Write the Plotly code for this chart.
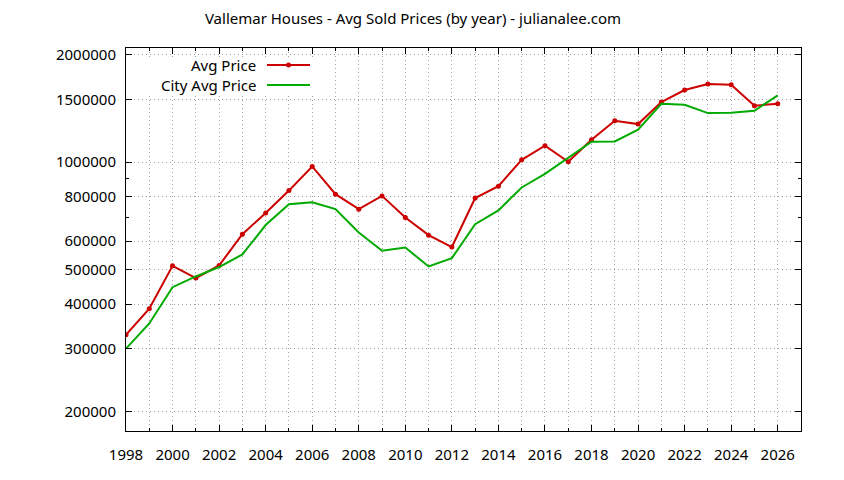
import plotly.graph_objects as go
import math

years = list(range(1998, 2027))
avg_price = [328000, 388000, 512000, 473000, 513000, 628000, 720000, 832000, 972000,
             813000, 738000, 804000, 699000, 624000, 578000, 793000, 856000, 1015000,
             1111000, 1002000, 1155000, 1306000, 1278000, 1473000, 1592000, 1655000,
             1648000, 1439000, 1457000]
city_avg_price = [300000, 353000, 446000, 478000, 508000, 551000, 666000, 762000, 772000,
                  738000, 635000, 564000, 576000, 510000, 538000, 670000, 732000, 849000,
                  927000, 1026000, 1140000, 1142000, 1232000, 1457000, 1448000, 1372000,
                  1375000, 1393000, 1538000]
y_tick_vals = [200000, 300000, 400000, 500000, 600000, 800000, 1000000, 1500000, 2000000]
y_minor_vals = [700000, 900000]
x_tick_vals = list(range(1998, 2027, 2))

RED = "#cc0000"
GREEN = "#00aa00"
GRID = "#a0a0a0"
FONT = "Noto Sans"

fig = go.Figure()
fig.add_trace(go.Scatter(x=years, y=avg_price, mode="lines+markers", name="Avg Price",
                         line=dict(color=RED, width=2), marker=dict(size=5, color=RED),
                         showlegend=False))
fig.add_trace(go.Scatter(x=years, y=city_avg_price, mode="lines", name="City Avg Price",
                         line=dict(color=GREEN, width=2), showlegend=False))

L, R, T, B = 126, 43, 48, 49
W, H = 844, 480
pw, ph = W - L - R, H - T - B

def px(x):
    return (x - L) / pw

def py(y):
    return 1 - (y - T) / ph

# legend (manual, gnuplot style: opaque key, text left of sample)
shapes = [dict(type="rect", xref="paper", yref="paper", x0=px(L + 1), x1=px(319),
               y0=py(95), y1=py(57), fillcolor="white", line=dict(width=0),
               layer="above")]
annotations = []
legend_rows = [("Avg Price", RED, True, 65), ("City Avg Price", GREEN, False, 85)]
for text, col, mk, yy in legend_rows:
    shapes.append(dict(type="line", xref="paper", yref="paper", x0=px(267), x1=px(310),
                       y0=py(yy), y1=py(yy), line=dict(color=col, width=2)))
    if mk:
        shapes.append(dict(type="circle", xref="paper", yref="paper",
                           x0=px(286), x1=px(291), y0=py(yy - 2.5), y1=py(yy + 2.5),
                           fillcolor=col, line=dict(color=col, width=0)))
    annotations.append(dict(text=text, xref="paper", yref="paper", x=px(258), y=py(yy),
                            xanchor="right", yanchor="middle", showarrow=False,
                            font=dict(family=FONT, size=15, color="black")))

fig.update_layout(
    width=W, height=H,
    margin=dict(l=L, r=R, t=T, b=B),
    paper_bgcolor="white", plot_bgcolor="white",
    font=dict(family=FONT, size=15, color="black"),
    title=dict(text="Vallemar Houses - Avg Sold Prices (by year) - julianalee.com",
               x=413 / W, xanchor="center", xref="container",
               y=1 - 19 / H, yanchor="middle", yref="container",
               font=dict(family=FONT, size=15, color="black")),
    shapes=shapes, annotations=annotations,
)
fig.update_xaxes(
    range=[1998, 2027], tickmode="array", tickvals=x_tick_vals,
    ticks="inside", ticklen=6, tickcolor="black", tickwidth=1,
    showline=True, linecolor="black", linewidth=1, mirror="allticks",
    showgrid=True, gridcolor=GRID, griddash="1px,3px", gridwidth=1,
    minor=dict(tickmode="linear", tick0=1999, dtick=2, ticks="inside", ticklen=3,
               tickcolor="black", showgrid=True, gridcolor=GRID, griddash="1px,3px"),
    ticklabelstandoff=10, zeroline=False,
)
fig.update_yaxes(
    type="log", range=[math.log10(176300), math.log10(2088000)],
    tickmode="array", tickvals=y_tick_vals, ticktext=[str(v) for v in y_tick_vals],
    ticks="inside", ticklen=6, tickcolor="black", tickwidth=1,
    showline=True, linecolor="black", linewidth=1, mirror="allticks",
    showgrid=True, gridcolor=GRID, griddash="1px,3px", gridwidth=1,
    minor=dict(tickmode="array", tickvals=y_minor_vals, ticks="inside", ticklen=3,
               tickcolor="black", showgrid=False),
    ticklabelstandoff=6, zeroline=False,
)

fig.write_html("out.html", config={"displayModeBar": False},
               post_script="document.body.style.margin='0px';document.body.style.padding='0px';")
